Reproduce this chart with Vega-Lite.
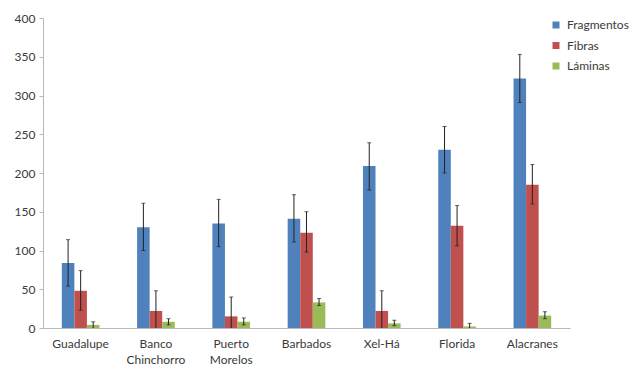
{
  "$schema": "https://vega.github.io/schema/vega-lite/v6.json",
  "autosize": "none",
  "width": 527,
  "height": 310,
  "padding": {"left": 43, "top": 18, "right": 61, "bottom": 39},
  "background": "white",
  "config": {
    "font": "Lato",
    "view": {"stroke": null},
    "axis": {"labelFont": "Lato", "labelColor": "#3a3a3a", "labelFontSize": 12, "domainColor": "#b7b7b7", "tickColor": "#b7b7b7", "grid": false, "title": null},
    "axisY": {"values": [0, 50, 100, 150, 200, 250, 300, 350, 400], "tickSize": 4, "labelPadding": 4, "labelOverlap": false, "labelFlush": false, "labelBound": false}
  },
  "data": {
    "values": [
      {"sitio": "Guadalupe", "tipo": "Fragmentos", "valor": 84, "inf": 54, "sup": 114},
      {"sitio": "Guadalupe", "tipo": "Fibras", "valor": 48, "inf": 23, "sup": 74},
      {"sitio": "Guadalupe", "tipo": "Láminas", "valor": 4, "inf": 0, "sup": 8},
      {"sitio": "Banco Chinchorro", "tipo": "Fragmentos", "valor": 130, "inf": 100, "sup": 161},
      {"sitio": "Banco Chinchorro", "tipo": "Fibras", "valor": 22, "inf": 0, "sup": 48},
      {"sitio": "Banco Chinchorro", "tipo": "Láminas", "valor": 8, "inf": 4, "sup": 12},
      {"sitio": "Puerto Morelos", "tipo": "Fragmentos", "valor": 135, "inf": 105, "sup": 166},
      {"sitio": "Puerto Morelos", "tipo": "Fibras", "valor": 15, "inf": 0, "sup": 40},
      {"sitio": "Puerto Morelos", "tipo": "Láminas", "valor": 8, "inf": 4, "sup": 13},
      {"sitio": "Barbados", "tipo": "Fragmentos", "valor": 141, "inf": 111, "sup": 172},
      {"sitio": "Barbados", "tipo": "Fibras", "valor": 123, "inf": 98, "sup": 150},
      {"sitio": "Barbados", "tipo": "Láminas", "valor": 33, "inf": 29, "sup": 38},
      {"sitio": "Xel-Há", "tipo": "Fragmentos", "valor": 209, "inf": 178, "sup": 239},
      {"sitio": "Xel-Há", "tipo": "Fibras", "valor": 22, "inf": 0, "sup": 48},
      {"sitio": "Xel-Há", "tipo": "Láminas", "valor": 6, "inf": 3, "sup": 10},
      {"sitio": "Florida", "tipo": "Fragmentos", "valor": 230, "inf": 200, "sup": 260},
      {"sitio": "Florida", "tipo": "Fibras", "valor": 132, "inf": 106, "sup": 158},
      {"sitio": "Florida", "tipo": "Láminas", "valor": 2, "inf": 0, "sup": 6},
      {"sitio": "Alacranes", "tipo": "Fragmentos", "valor": 322, "inf": 291, "sup": 353},
      {"sitio": "Alacranes", "tipo": "Fibras", "valor": 185, "inf": 160, "sup": 211},
      {"sitio": "Alacranes", "tipo": "Láminas", "valor": 16, "inf": 12, "sup": 21}
    ]
  },
  "encoding": {
    "x": {
      "field": "sitio", "type": "nominal", "sort": null,
      "scale": {"paddingInner": 0.5, "paddingOuter": 0.25},
      "axis": {"labelAngle": 0, "ticks": false, "labelPadding": 10, "labelLineHeight": 16, "labelExpr": "split(datum.label, ' ')"}
    },
    "xOffset": {"field": "tipo", "type": "nominal", "sort": ["Fragmentos", "Fibras", "Láminas"], "scale": {"paddingInner": 0, "paddingOuter": 0}}
  },
  "layer": [
    {
      "mark": {"type": "bar"},
      "encoding": {
        "y": {"field": "valor", "type": "quantitative", "scale": {"domain": [0, 400], "nice": false}},
        "color": {
          "field": "tipo", "type": "nominal", "sort": ["Fragmentos", "Fibras", "Láminas"],
          "scale": {"domain": ["Fragmentos", "Fibras", "Láminas"], "range": ["#4f81bd", "#c0504d", "#9bbb59"]},
          "legend": {"title": null, "orient": "none", "legendX": 507, "legendY": 1, "symbolType": "square", "symbolSize": 49, "symbolStrokeWidth": 0, "labelFontSize": 12, "labelColor": "#3a3a3a", "rowPadding": 8.5, "labelOffset": 5}
        }
      }
    },
    {
      "mark": {"type": "rule", "color": "#222222", "strokeWidth": 1},
      "encoding": {"y": {"field": "inf", "type": "quantitative"}, "y2": {"field": "sup"}}
    },
    {
      "mark": {"type": "tick", "color": "#222222", "thickness": 1, "size": 4},
      "encoding": {"y": {"field": "sup", "type": "quantitative"}}
    },
    {
      "mark": {"type": "tick", "color": "#222222", "thickness": 1, "size": 4},
      "transform": [{"filter": "datum.inf > 0"}],
      "encoding": {"y": {"field": "inf", "type": "quantitative"}}
    }
  ]
}
